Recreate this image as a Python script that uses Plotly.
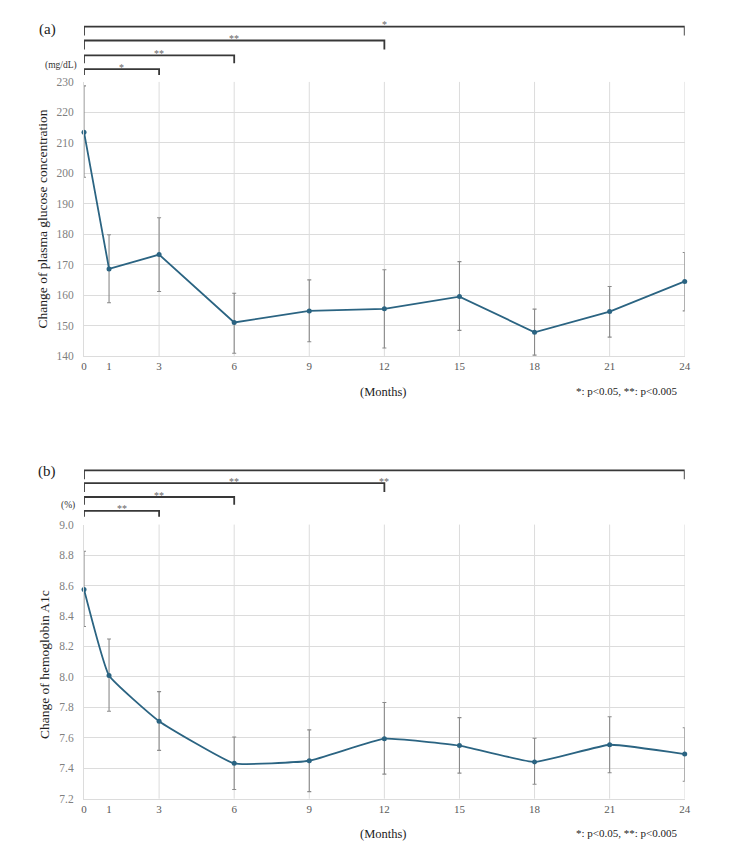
import plotly.graph_objects as go

# ---------------- data ----------------
months = [0, 1, 3, 6, 9, 12, 15, 18, 21, 24]
month_labels = ["0", "1", "3", "6", "9", "12", "15", "18", "21", "24"]

glucose_mean = [213.5, 168.6, 173.3, 151.0, 154.8, 155.5, 159.5, 147.8, 154.6, 164.5]
glucose_upper = [228.7, 179.8, 185.4, 160.6, 165.0, 168.3, 171.0, 155.4, 162.8, 174.0]
glucose_lower = [198.7, 157.5, 161.2, 140.9, 144.7, 142.6, 148.4, 140.3, 146.2, 154.8]

hba1c_mean = [8.574, 8.009, 7.709, 7.432, 7.449, 7.594, 7.549, 7.441, 7.554, 7.493]
hba1c_upper = [8.825, 8.249, 7.903, 7.605, 7.652, 7.832, 7.732, 7.597, 7.738, 7.666]
hba1c_lower = [8.331, 7.774, 7.517, 7.260, 7.246, 7.361, 7.368, 7.295, 7.370, 7.314]

# significance comparisons (from month, to month, label)
glucose_sig = [(0, 3, "*"), (0, 6, "**"), (0, 12, "**"), (0, 24, "*")]
hba1c_sig = [(0, 3, "**"), (0, 6, "**"), (0, 12, "**"), (0, 24, "**")]

footnote = "*: p<0.05, **: p<0.005"

# ---------------- styling ----------------
W, H = 750, 851
SERIF = "Liberation Serif, Times New Roman, serif"
LINE_C = "#2B6482"
ERR_C = "#8a8a8a"
GRID_C = "#dcdcdc"
BRK_C = "#383838"


def px(x):
    return x / W


def py(y):
    return 1 - y / H


fig = go.Figure()


def add_series(mean, up, lo, xa, ya, shape, smooth):
    fig.add_trace(go.Scatter(
        x=months, y=mean, xaxis=xa, yaxis=ya, mode="lines+markers",
        line=dict(color=LINE_C, width=1.8, shape=shape, smoothing=smooth),
        marker=dict(color=LINE_C, size=5),
        error_y=dict(type="data", symmetric=False,
                     array=[u - m for u, m in zip(up, mean)],
                     arrayminus=[m - l for m, l in zip(mean, lo)],
                     color=ERR_C, thickness=1.1, width=2),
        cliponaxis=False, showlegend=False, hoverinfo="skip"))


add_series(glucose_mean, glucose_upper, glucose_lower, "x", "y", "linear", 1)
add_series(hba1c_mean, hba1c_upper, hba1c_lower, "x2", "y2", "spline", 0.35)

x_dom = [px(82), px(690)]
xcommon = dict(range=[0, 24], tickmode="array", tickvals=months, ticktext=month_labels,
               showgrid=False, zeroline=False, showline=True, linecolor=GRID_C,
               linewidth=1, ticks="", fixedrange=True,
               tickfont=dict(family=SERIF, size=11, color="#595959"))
ycommon = dict(showgrid=True, gridcolor=GRID_C, gridwidth=1, zeroline=False,
               showline=True, linecolor=GRID_C, linewidth=1, ticks="",
               ticklabelstandoff=7,
               tickfont=dict(family=SERIF, size=11.5, color="#7f7f7f"))

fig.update_layout(
    width=W, height=H, autosize=False,
    margin=dict(l=0, r=0, t=0, b=0),
    paper_bgcolor="white", plot_bgcolor="white",
    xaxis=dict(domain=x_dom, anchor="y", **xcommon),
    yaxis=dict(domain=[py(355), py(77)], anchor="x", range=[140, 230], dtick=10, **ycommon),
    xaxis2=dict(domain=x_dom, anchor="y2", **xcommon),
    yaxis2=dict(domain=[py(804), py(526)], anchor="x2", range=[7.2, 9.0], dtick=0.2,
                tickformat=".1f", **ycommon),
)

# vertical grid lines at every 3 months
grid_months = [m for m in months if m > 0 and m % 3 == 0]
for xa, ya in (("x", "y"), ("x2", "y2")):
    for m in grid_months:
        fig.add_shape(type="line", xref=xa, yref=ya + " domain", x0=m, x1=m, y0=0, y1=1,
                      line=dict(color=GRID_C, width=1), layer="below")


# significance brackets
def add_brackets(sig, xa, line_ys, label_ys, tick_lens):
    for (a, b, lab), ly, ty, tl in zip(sig, line_ys, label_ys, tick_lens):
        y0 = py(ly)
        y1 = py(ly + tl)
        fig.add_shape(type="path", xref=xa, yref="paper",
                      path=f"M {a},{y1} L {a},{y0} L {b},{y0} L {b},{y1}",
                      line=dict(color=BRK_C, width=1.8))
        fig.add_annotation(x=(a + b) / 2, y=py(ty), xref=xa, yref="paper", text=lab,
                           showarrow=False, xanchor="center", yanchor="middle",
                           font=dict(family=SERIF, size=10, color="#666666"))


add_brackets(glucose_sig, "x", [64, 50, 35, 21], [62, 48, 33, 19], [6, 8, 9, 9])
add_brackets(hba1c_sig, "x2", [512, 498, 484, 471], [510, 496, 482, 482], [6, 8, 9, 9])


def ann(text, x, y, size, color="#222222", xanchor="center", angle=0):
    fig.add_annotation(x=px(x), y=py(y), xref="paper", yref="paper", text=text,
                       showarrow=False, xanchor=xanchor, yanchor="middle", textangle=angle,
                       font=dict(family=SERIF, size=size, color=color))


# panel (a)
ann("(a)", 45.5, 24, 15)
ann("(mg/dL)", 59, 60, 9.5, "#333333")
ann("Change of plasma glucose concentration", 40, 216, 13.5, "#222222", angle=-90)
ann("(Months)", 385, 392, 12.5)
ann(footnote, 685, 391, 11, xanchor="right")

# panel (b)
ann("(b)", 45, 472, 15)
ann("(%)", 66, 507, 9.5, "#333333")
ann("Change of hemoglobin A1c", 42, 668, 13.5, "#222222", angle=-90)
ann("(Months)", 385, 840, 12.5)
ann(footnote, 685, 839, 11, xanchor="right")

fig.write_html("out.html")
